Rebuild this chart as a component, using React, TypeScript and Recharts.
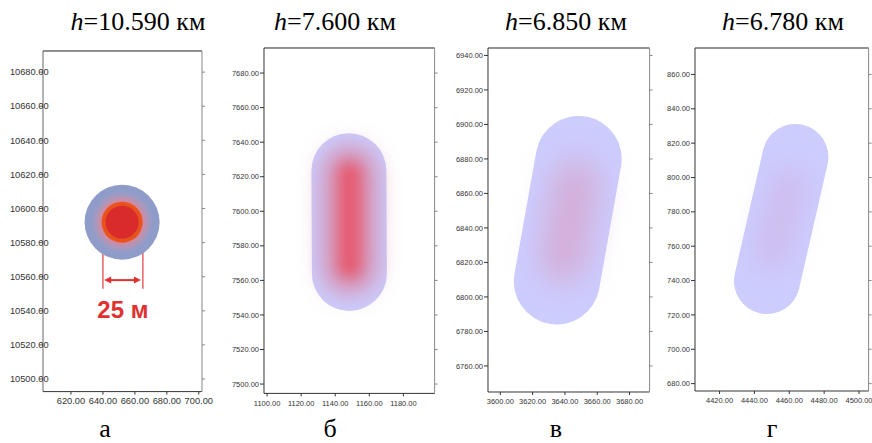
import React from "react";
import { ComposedChart, XAxis, YAxis, Line, Scatter, ReferenceLine, ReferenceDot } from "recharts";

// а) h=10.590 км
const aXTicks = [620, 640, 660, 680, 700];
const aYTicks = [10500, 10520, 10540, 10560, 10580, 10600, 10620, 10640, 10660, 10680];
const aCenter = [{ x: 652, y: 10592 }];
const aMarkX = [640, 665];
const aMarkY = [10592, 10553];
const aArrow = [{ x: 640.8, y: 10558 }, { x: 663.8, y: 10558 }];
const aLabel = { x: 652.5, y: 10536, text: "25 м" };

// б) h=7.600 км
const bXTicks = [1100, 1120, 1140, 1160, 1180];
const bYTicks = [7500, 7520, 7540, 7560, 7580, 7600, 7620, 7640, 7660, 7680];
const bAxis = [{ x: 1148, y: 7623.5 }, { x: 1148.3, y: 7564 }];
const bCore = [{ x: 1148.5, y: 7622 }, { x: 1148.5, y: 7568 }];

// в) h=6.850 км
const vXTicks = [3600, 3620, 3640, 3660, 3680];
const vYTicks = [6760, 6780, 6800, 6820, 6840, 6860, 6880, 6900, 6920, 6940];
const vAxis = [{ x: 3648.5, y: 6880 }, { x: 3635, y: 6809 }];
const vCore = [{ x: 3647, y: 6866 }, { x: 3639, y: 6822 }];

// г) h=6.780 км
const gXTicks = [4420, 4440, 4460, 4480, 4500];
const gYTicks = [680, 700, 720, 740, 760, 780, 800, 820, 840, 860];
const gAxis = [{ x: 4463.5, y: 812 }, { x: 4447.2, y: 739.7 }];
const gCore = [{ x: 4460, y: 795 }, { x: 4450, y: 757 }];

const titles = ["10.590", "7.600", "6.850", "6.780"];
const letters = ["а", "б", "в", "г"];

const serif = "'Liberation Serif', 'Times New Roman', serif";
const sans = "'Liberation Sans', Arial, sans-serif";

const LEFT_W = 52;
const RIGHT_W = 20;
const TOP_H = 6;
const BOTTOM_H = 22;

const empty = () => <g />;

function Panel({ box, xDomain, yDomain, xTicks, yTicks, fontSize, labelShift, leftStroke, children }: any) {
  const w = box.r - box.l + LEFT_W + RIGHT_W;
  const h = box.b - box.t + TOP_H + BOTTOM_H;
  const leftTick = (p: any) => (
    <text x={p.x + labelShift} y={p.y} dy="0.35em" textAnchor="end" fontSize={fontSize} fill="#333"
      style={{ fontFamily: sans }}>
      {Number(p.payload.value).toFixed(2)}
    </text>
  );
  const bottomTick = (p: any) => (
    <text x={p.x} y={p.y} dy={7.5} textAnchor="middle" fontSize={fontSize} fill="#333"
      style={{ fontFamily: sans }}>
      {Number(p.payload.value).toFixed(2)}
    </text>
  );
  return (
    <div style={{ position: "absolute", left: box.l - LEFT_W, top: box.t - TOP_H }}>
      <ComposedChart width={w} height={h} margin={{ top: 0, right: 0, bottom: 0, left: 0 }}>
        <XAxis xAxisId="top" orientation="top" type="number" domain={xDomain} ticks={xTicks} interval={0}
          allowDataOverflow height={TOP_H} tickSize={5} tick={empty} stroke="#222" />
        <XAxis dataKey="x" type="number" domain={xDomain} ticks={xTicks} interval={0} allowDataOverflow
          height={BOTTOM_H} tickSize={3} tickMargin={2} tick={bottomTick} stroke="#333" />
        <YAxis dataKey="y" type="number" domain={yDomain} ticks={yTicks} interval={0} allowDataOverflow
          width={LEFT_W} tickSize={4} tickMargin={1} tick={leftTick} stroke={leftStroke} />
        <YAxis yAxisId="right" orientation="right" type="number" domain={yDomain} ticks={yTicks} interval={0}
          allowDataOverflow width={RIGHT_W} tickSize={3} tick={empty} stroke="#888" />
        {children}
      </ComposedChart>
    </div>
  );
}

const CircleBlob = (p: any) => (
  <g>
    <circle cx={p.cx} cy={p.cy} r={37.5} fill="#8f9cc9" />
    <circle cx={p.cx} cy={p.cy} r={31} fill="url(#aGlow)" />
    <circle cx={p.cx} cy={p.cy} r={20.5} fill="#e8521c" />
    <circle cx={p.cx} cy={p.cy} r={16.5} fill="#d92b2b" />
  </g>
);

const Arrow = (p: any) => {
  const { x1, y1, x2, y2 } = p;
  const hl = 7;
  const hw = 3.5;
  return (
    <g>
      <line x1={x1 + 3} y1={y1} x2={x2 - 3} y2={y2} stroke="#e03030" strokeWidth={2} />
      <polygon points={`${x1},${y1} ${x1 + hl},${y1 - hw} ${x1 + hl},${y1 + hw}`} fill="#e03030" />
      <polygon points={`${x2},${y2} ${x2 - hl},${y2 - hw} ${x2 - hl},${y2 + hw}`} fill="#e03030" />
    </g>
  );
};

const lineBase = { dataKey: "y", dot: false, activeDot: false, isAnimationActive: false, strokeLinecap: "round" as const, type: "linear" as const };

function blurDef(id: string, sd: number) {
  return (
    <filter id={id} filterUnits="userSpaceOnUse" x={-500} y={-500} width={2000} height={2000}>
      <feGaussianBlur stdDeviation={sd} />
    </filter>
  );
}

export default function App() {
  return (
    <div style={{ position: "absolute", left: 0, top: 0, width: 872, height: 443, background: "#fff", overflow: "hidden" }}>
      <Panel box={{ l: 42.7, t: 50.7, r: 201.7, b: 391.3 }} xDomain={[602.5, 702]} yDomain={[10492.6, 10692.4]}
        xTicks={aXTicks} yTicks={aYTicks} fontSize={9.3} labelShift={10.6} leftStroke="#666">
        <defs>
          <radialGradient id="aGlow" cx="50%" cy="50%" r="50%">
            <stop offset="0.6" stopColor="#ec7f8c" stopOpacity={1} />
            <stop offset="1" stopColor="#c59ab8" stopOpacity={0} />
          </radialGradient>
        </defs>
        <Scatter data={aCenter} dataKey="y" shape={CircleBlob} isAnimationActive={false} />
        {aMarkX.map((x) => (
          <ReferenceLine key={x} segment={[{ x, y: aMarkY[0] }, { x, y: aMarkY[1] }]} stroke="#e46464" strokeWidth={1.5} />
        ))}
        <ReferenceLine segment={aArrow} shape={Arrow} />
        <ReferenceDot x={aLabel.x} y={aLabel.y} r={0}
          shape={(p: any) => (
            <text x={p.cx} y={p.cy} textAnchor="middle" fontWeight="bold" fontSize={24} fill="#e03030"
              style={{ fontFamily: sans }}>
              {aLabel.text}
            </text>
          )} />
      </Panel>

      <Panel box={{ l: 263.7, t: 48.3, r: 434.3, b: 393.7 }} xDomain={[1098.2, 1198.3]} yDomain={[7494.6, 7694.5]}
        xTicks={bXTicks} yTicks={bYTicks} fontSize={7.5} labelShift={0} leftStroke="#333">
        <defs>
          {blurDef("bBlurWide", 11)}
          {blurDef("bBlurCore", 7)}
        </defs>
        <Line data={bAxis} {...lineBase} stroke="#cbcbfb" strokeWidth={75} />
        <Line data={bCore} {...lineBase} stroke="#d890b0" strokeWidth={54} filter="url(#bBlurWide)" />
        <Line data={bCore} {...lineBase} stroke="#e65a70" strokeWidth={22} filter="url(#bBlurCore)" />
      </Panel>

      <Panel box={{ l: 487.7, t: 48.3, r: 649.3, b: 392.3 }} xDomain={[3592.4, 3692.4]} yDomain={[6744.9, 6944.3]}
        xTicks={vXTicks} yTicks={vYTicks} fontSize={7.5} labelShift={0} leftStroke="#333">
        <defs>{blurDef("vBlur", 15)}</defs>
        <Line data={vAxis} {...lineBase} stroke="#ccccfd" strokeWidth={86} />
        <Line data={vCore} {...lineBase} stroke="#d4aed8" strokeWidth={46} filter="url(#vBlur)" />
      </Panel>

      <Panel box={{ l: 694.7, t: 48.3, r: 868.3, b: 391.3 }} xDomain={[4405.9, 4505.5]} yDomain={[675.7, 875.4]}
        xTicks={gXTicks} yTicks={gYTicks} fontSize={7.5} labelShift={0} leftStroke="#333">
        <defs>{blurDef("gBlur", 12)}</defs>
        <Line data={gAxis} {...lineBase} stroke="#ccccfd" strokeWidth={66} />
        <Line data={gCore} {...lineBase} stroke="#cfbdee" strokeWidth={34} filter="url(#gBlur)" />
      </Panel>

      <svg width={872} height={443} style={{ position: "absolute", left: 0, top: 0, pointerEvents: "none" }}>
        {[138, 335, 566, 783].map((cx, i) => (
          <text key={i} x={cx} y={30} textAnchor="middle" fontSize={26} fill="#000" style={{ fontFamily: serif }}>
            <tspan fontStyle="italic">h</tspan>={titles[i]} км
          </text>
        ))}
        {[105, 330, 556, 772].map((cx, i) => (
          <text key={i} x={cx} y={437} textAnchor="middle" fontSize={26} fill="#000" style={{ fontFamily: serif }}>
            {letters[i]}
          </text>
        ))}
      </svg>
    </div>
  );
}
